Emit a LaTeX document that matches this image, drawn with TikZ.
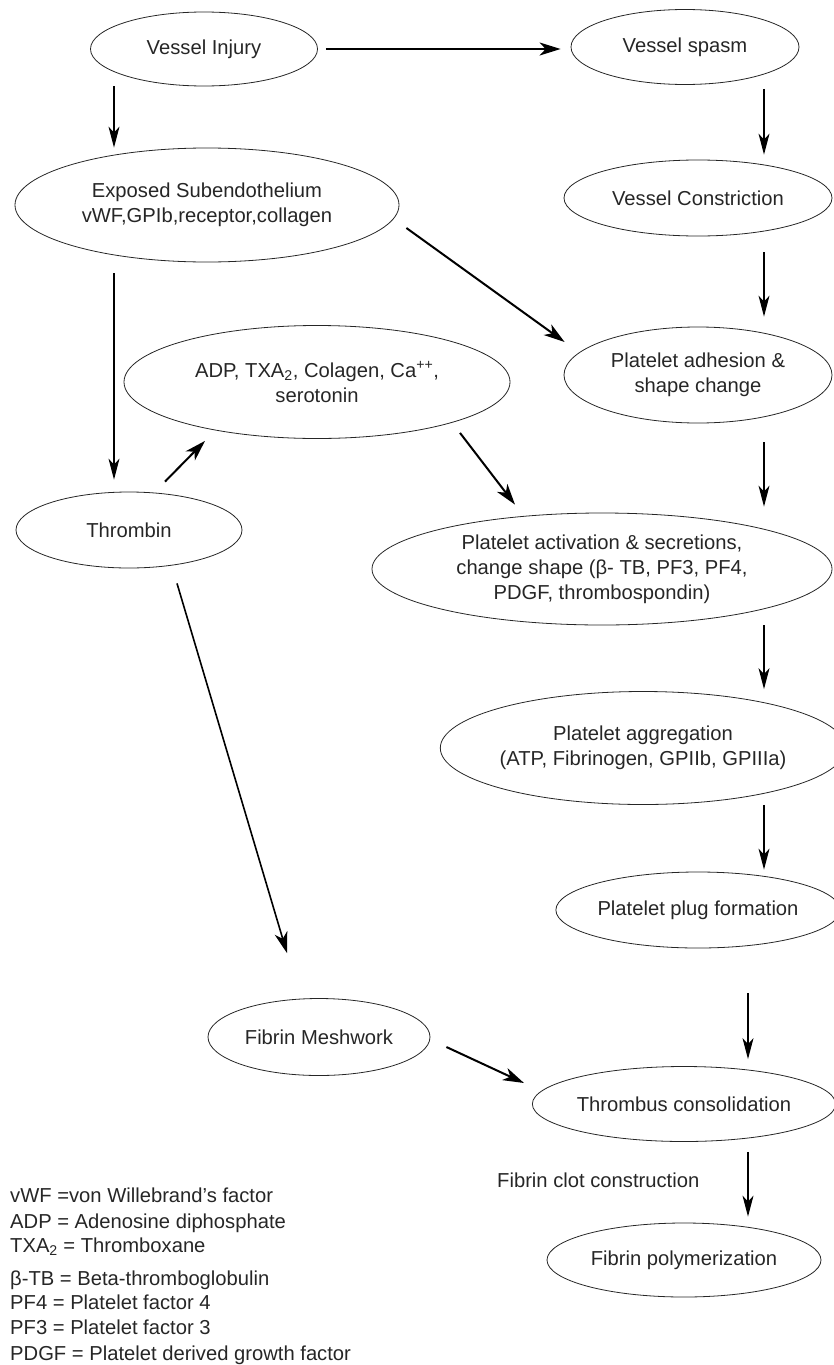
\documentclass[tikz,border=0pt]{standalone}
\usepackage{fontspec}
\setmainfont{Liberation Sans}
\usetikzlibrary{shapes.geometric,arrows.meta,calc}
\tikzset{
  ell/.style={ellipse, draw=black!85, line width=0.8pt, inner sep=0pt, align=center, text=black!85},
  arr/.style={draw=black, line width=1.1pt, -{Stealth[length=21pt,width=11pt,inset=6pt]}},
  arrb/.style={draw=black, line width=2pt, -{Stealth[length=21pt,width=13pt,inset=6pt]}},
  legend/.style={anchor=base west, inner sep=0pt, text=black!85},
}
\begin{document}
\begin{tikzpicture}[x=1pt,y=-1pt,font=\fontsize{20.2}{25}\selectfont]
\useasboundingbox (0,0) rectangle (833,1365);
\coordinate (colL) at (114,0);
\coordinate (colR) at (764,0);
\coordinate (colR2) at (748,0);
% nodes
\node[ell, minimum width=227pt, minimum height=74pt] (vi) at (204,49) {Vessel Injury};
\node[ell, minimum width=228pt, minimum height=75pt] (vs) at (685,47) {Vessel spasm};
\node[ell, minimum width=384pt, minimum height=114pt] (es) at (207,205) {Exposed Subendothelium\\vWF,GPIb,receptor,collagen};
\node[ell, minimum width=268pt, minimum height=76pt] (vc) at (698,198) {Vessel Constriction};
\node[ell, minimum width=386pt, minimum height=113pt] (adp) at (317,382) {ADP, TXA\textsubscript{2}, Colagen, Ca\textsuperscript{++},\\serotonin};
\node[ell, minimum width=268pt, minimum height=96pt] (pa) at (698,375) {Platelet adhesion \&\\shape change};
\node[ell, minimum width=226pt, minimum height=76pt] (th) at (129,530) {Thrombin};
\node[ell, minimum width=460pt, minimum height=112pt] (pact) at (602,569) {Platelet activation \& secretions,\\change shape (β- TB, PF3, PF4,\\PDGF, thrombospondin)};
\node[ell, minimum width=378pt, minimum height=113pt] (pag) at (643,748) {Platelet aggregation\\(ATP, Fibrinogen, GPIIb, GPIIIa)};
\node[ell, minimum width=268pt, minimum height=76pt] (pp) at (698,910) {Platelet plug formation};
\node[ell, minimum width=222pt, minimum height=77pt] (fm) at (319,1037) {Fibrin Meshwork};
\node[ell, minimum width=274pt, minimum height=75pt] (tc) at (684,1104) {Thrombus consolidation};
\node[ell, minimum width=274pt, minimum height=74pt] (fp) at (684,1260) {Fibrin polymerization};
\node[legend] (fcc) at (497,1187) {Fibrin clot construction};
% legend
\node[legend] (l1) at (10,1202) {vWF =von Willebrand’s factor};
\node[legend] (l2) at (10,1228) {ADP = Adenosine diphosphate};
\node[legend] (l3) at (10,1252) {TXA\textsubscript{2} = Thromboxane};
\node[legend] (l4) at (10,1285) {β-TB = Beta-thromboglobulin};
\node[legend] (l5) at (10,1309) {PF4 = Platelet factor 4};
\node[legend] (l6) at (10,1334) {PF3 = Platelet factor 3};
\node[legend] (l7) at (10,1360) {PDGF = Platelet derived growth factor};
% connectors
\draw[arrb, shorten <=8pt, shorten >=10pt] (vi.east) -- (vi.east -| vs.west);
\draw[arr] (vi.south -| colL) -- (es.north -| colL);
\draw[arr, shorten <=11pt, shorten >=12pt] (es.south -| colL) -- (th.north -| colL);
\draw[arr, shorten <=4pt, shorten >=5pt] (vs.south -| colR) -- (vc.north -| colR);
\draw[arr, shorten <=16pt, shorten >=10pt] (vc.south -| colR) -- (pa.north -| colR);
\draw[arrb] ([shift={(7,23)}]es.east) -- ([shift={(1,-33)}]pa.west);
\draw[arr, shorten <=19pt, shorten >=6pt] (pa.south -| colR) -- (pact.north -| colR);
\draw[arrb] ([shift={(36,-10)}]th.north) -- ([shift={(-112,2)}]adp.south);
\draw[arrb] ([shift={(143,-6)}]adp.south) -- ([shift={(-87,-8)}]pact.north);
\draw[arr, shorten >=2pt] (pact.south -| colR) -- (pag.north -| colR);
\draw[arrb, line width=1.6pt] ([shift={(48,15)}]th.south) -- ([shift={(-32,-45)}]fm.north);
\draw[arr, shorten >=2pt] (pag.south -| colR) -- (pp.north -| colR);
\draw[arr, shorten <=45pt, shorten >=7pt] (pp.south -| colR2) -- (tc.north -| colR2);
\draw[arrb] ([shift={(16,10)}]fm.east) -- ([shift={(-8,-21)}]tc.west);
\draw[arr, shorten <=10pt, shorten >=6pt] (tc.south -| colR2) -- (fp.north -| colR2);
\end{tikzpicture}
\end{document}
